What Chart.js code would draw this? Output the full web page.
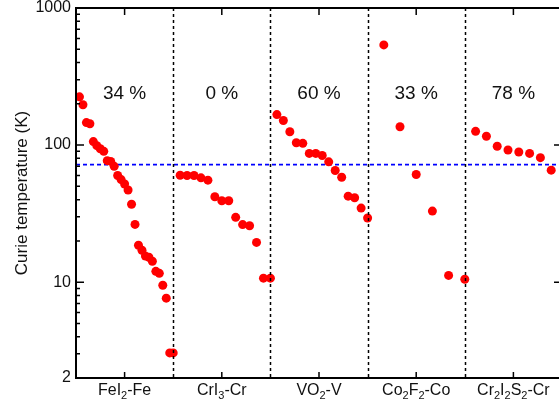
<!DOCTYPE html>
<html>
<head>
<meta charset="utf-8">
<script src="https://cdn.jsdelivr.net/npm/chart.js@4"></script>
<style>
  html, body { margin: 0; padding: 0; overflow: hidden; background: #fff; }
  #wrap { width: 580px; height: 410px; }
</style>
</head>
<body>
<div id="wrap"><canvas id="tcChart" width="580" height="410"></canvas></div>
<script>
// material groups, "_d" marks a subscript digit
const groups = ['FeI_2-Fe', 'CrI_3-Cr', 'VO_2-V', 'Co_2F_2-Co', 'Cr_2I_2S_2-Cr'];
const percentLabels = ['34 %', '0 %', '60 %', '33 %', '78 %'];
// number of x slots per group
const slots = [28, 14, 15, 6, 9];

// Curie temperatures (K)
const feI2Tc = [225, 197, 146, 143, 106, 99, 94, 90, 77, 76, 70, 60, 56, 52, 47, 37, 26.4, 18.6, 17.1, 15.5, 15.2, 14.2, 12.0, 11.6, 9.5, 7.65, 3.05, 3.05];
const crI3Tc = [60.3, 60, 60, 57.7, 55.5, 42, 39.3, 39.3, 29.7, 26.3, 25.8, 19.5, 10.7, 10.7];
const vo2Tc = [167, 151, 125, 104, 103, 87, 87, 84, 75.5, 65.3, 58.3, 42.4, 41.3, 34.7, 29.4];
const co2F2Tc = [538, 136, 61, 33, 11.2, 10.5];
const cr2I2S2Tc = [126, 116, 98, 92, 89, 87, 81, 65.6];
const allTc = [feI2Tc, crI3Tc, vo2Tc, co2F2Tc, cr2I2S2Tc];

const refTc = 72;          // blue dashed line
const percentY = 237;      // height of the percent labels
const majorTicks = [2, 10, 100, 1000];
const yTicks = [2, 3, 4, 5, 6, 7, 8, 9, 10, 20, 30, 40, 50, 60, 70, 80, 90, 100, 200, 300, 400, 500, 600, 700, 800, 900, 1000];

const FONT = "'Liberation Sans', Arial, Helvetica, sans-serif";
Chart.defaults.font.family = FONT;

const datasets = allTc.map((vals, g) => ({
    data: vals.map((v, j) => ({ x: g + (j + 1) / slots[g], y: v })),
    backgroundColor: '#ff0000',
    borderWidth: 0,
    pointRadius: 4.5,
    pointHoverRadius: 4.5
}));

function drawSubText(ctx, text, cx, baseline) {
    const parts = [];
    let i = 0;
    while (i < text.length) {
        if (text[i] === '_') { parts.push({ t: text[i + 1], sub: true }); i += 2; }
        else { parts.push({ t: text[i], sub: false }); i += 1; }
    }
    const mainFont = '16px ' + FONT, subFont = '11px ' + FONT;
    let w = 0;
    parts.forEach(p => { ctx.font = p.sub ? subFont : mainFont; w += ctx.measureText(p.t).width; });
    let x = cx - w / 2;
    ctx.textAlign = 'left';
    ctx.textBaseline = 'alphabetic';
    parts.forEach(p => {
        ctx.font = p.sub ? subFont : mainFont;
        ctx.fillText(p.t, x, p.sub ? baseline + 4 : baseline);
        x += ctx.measureText(p.t).width;
    });
}

const framePlugin = {
    id: 'frame',
    beforeDatasetsDraw(chart) {
        const { ctx, chartArea: a, scales: { y } } = chart;
        const yy = y.getPixelForValue(refTc);
        ctx.save();
        ctx.strokeStyle = '#0000ff';
        ctx.lineWidth = 1.8;
        ctx.setLineDash([4, 3]);
        ctx.beginPath();
        ctx.moveTo(a.left, yy);
        ctx.lineTo(a.right, yy);
        ctx.stroke();
        ctx.restore();
    },
    afterDatasetsDraw(chart) {
        const { ctx, chartArea: a, scales: { x, y } } = chart;
        ctx.save();
        // group dividers
        ctx.strokeStyle = '#000';
        ctx.lineWidth = 1.5;
        ctx.setLineDash([3, 3]);
        for (let g = 1; g < groups.length; g++) {
            const xx = Math.round(x.getPixelForValue(g)) + 0.5;
            ctx.beginPath();
            ctx.moveTo(xx, a.top);
            ctx.lineTo(xx, a.bottom);
            ctx.stroke();
        }
        ctx.setLineDash([]);
        // frame: left, top, bottom (right side lies past the window edge)
        ctx.lineWidth = 2;
        ctx.beginPath();
        ctx.moveTo(a.right + 5, a.top);
        ctx.lineTo(a.left, a.top);
        ctx.lineTo(a.left, a.bottom);
        ctx.lineTo(a.right + 5, a.bottom);
        ctx.stroke();
        // y ticks, left side full, right side mirrored
        ctx.lineWidth = 1.5;
        yTicks.forEach(v => {
            const yy = y.getPixelForValue(v);
            const major = majorTicks.includes(v);
            ctx.beginPath();
            ctx.moveTo(a.left, yy); ctx.lineTo(a.left + (major ? 8 : 4), yy);
            ctx.moveTo(a.right, yy); ctx.lineTo(a.right - (major ? 8 : 3), yy);
            ctx.stroke();
        });
        // x ticks at group centres, top and bottom
        groups.forEach((name, g) => {
            const xx = x.getPixelForValue(g + 0.5);
            ctx.beginPath();
            ctx.moveTo(xx, a.top); ctx.lineTo(xx, a.top + 7);
            ctx.moveTo(xx, a.bottom); ctx.lineTo(xx, a.bottom - 6);
            ctx.stroke();
        });
        // percent labels
        ctx.fillStyle = '#111';
        ctx.font = '19px ' + FONT;
        ctx.textAlign = 'center';
        ctx.textBaseline = 'middle';
        percentLabels.forEach((p, g) => {
            ctx.fillText(p, x.getPixelForValue(g + 0.5), y.getPixelForValue(percentY));
        });
        // category labels
        groups.forEach((name, g) => {
            drawSubText(ctx, name, x.getPixelForValue(g + 0.5), a.bottom + 17);
        });
        ctx.restore();
    }
};

new Chart(document.getElementById('tcChart'), {
    type: 'scatter',
    data: { datasets: datasets },
    options: {
        responsive: false,
        animation: false,
        events: [],
        layout: { padding: { top: 8, right: 18, left: 0, bottom: 0 } },
        plugins: { legend: { display: false }, tooltip: { enabled: false } },
        scales: {
            x: {
                type: 'linear',
                min: 0,
                max: groups.length,
                grid: { display: false },
                border: { display: false },
                ticks: { display: false },
                afterFit(scale) { scale.height = 32; scale.paddingLeft = 0; scale.paddingRight = 0; }
            },
            y: {
                type: 'logarithmic',
                min: 2,
                max: 1000,
                grid: { display: false, drawTicks: false },
                border: { display: false },
                afterBuildTicks(scale) { scale.ticks = yTicks.map(v => ({ value: v })); },
                afterFit(scale) { scale.width = 76; scale.paddingTop = 0; scale.paddingBottom = 0; },
                ticks: {
                    autoSkip: false,
                    padding: 5,
                    color: '#111',
                    font: { size: 16 },
                    callback: (v) => majorTicks.includes(v) ? String(v) : ''
                },
                title: {
                    display: true,
                    text: 'Curie temperature (K)',
                    color: '#111',
                    font: { size: 17 },
                    padding: { top: 12, bottom: 0 }
                }
            }
        }
    },
    plugins: [framePlugin]
});
</script>
</body>
</html>
